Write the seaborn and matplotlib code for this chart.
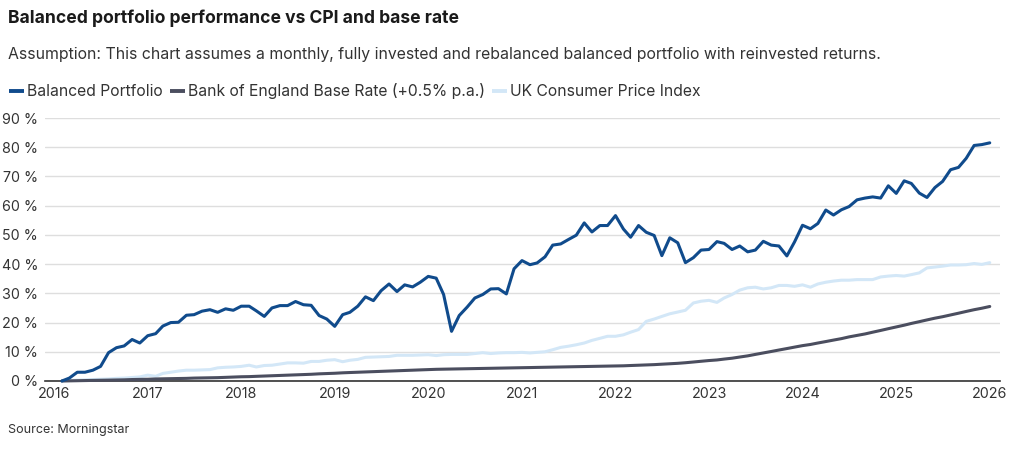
import numpy as np
import pandas as pd
import seaborn as sns
import matplotlib.pyplot as plt
import matplotlib.dates as mdates
from matplotlib.ticker import FuncFormatter

# monthly values (cumulative %), Jan 2016 - Dec 2025
balanced = [
    0, 1.0, 3.0, 3.0, 3.7, 5.0, 9.7, 11.4, 12.0, 14.2, 13.0, 15.5,
    16.2, 18.8, 20.0, 20.1, 22.5, 22.7, 23.9, 24.4, 23.5, 24.7, 24.2, 25.6,
    25.6, 24.0, 22.1, 25.0, 25.8, 25.8, 27.2, 26.1, 25.9, 22.4, 21.2, 18.7,
    22.7, 23.5, 25.6, 28.8, 27.5, 30.9, 33.2, 30.6, 32.9, 32.2, 33.8, 35.8,
    35.2, 29.6, 17.0, 22.4, 25.3, 28.4, 29.6, 31.5, 31.6, 29.8, 38.4, 41.2,
    39.8, 40.4, 42.5, 46.5, 46.9, 48.4, 49.9, 54.1, 51.0, 53.2, 53.2, 56.6,
    52.0, 49.2, 53.2, 50.9, 49.8, 42.9, 49.0, 47.3, 40.5, 42.2, 44.8, 45.0,
    47.7, 47.1, 45.0, 46.2, 44.2, 44.8, 47.8, 46.5, 46.2, 42.8, 47.6, 53.3,
    52.1, 53.9, 58.5, 56.8, 58.6, 59.7, 62.0, 62.6, 63.0, 62.6, 66.8, 64.2,
    68.5, 67.6, 64.3, 62.8, 66.2, 68.3, 72.3, 73.1, 76.2, 80.6, 80.9, 81.5,
]
base_rate = [
    0.0, 0.05, 0.1, 0.15, 0.2, 0.25, 0.3, 0.35, 0.4, 0.5, 0.55, 0.6,
    0.7, 0.75, 0.8, 0.85, 0.9, 1.0, 1.05, 1.1, 1.15, 1.25, 1.35, 1.45,
    1.5, 1.6, 1.7, 1.8, 1.9, 2.0, 2.1, 2.2, 2.3, 2.45, 2.55, 2.65,
    2.8, 2.9, 3.0, 3.1, 3.2, 3.3, 3.4, 3.5, 3.6, 3.7, 3.8, 3.9,
    4.0, 4.05, 4.1, 4.15, 4.2, 4.25, 4.3, 4.35, 4.4, 4.45, 4.5, 4.55,
    4.6, 4.65, 4.7, 4.75, 4.8, 4.85, 4.9, 4.95, 5.0, 5.05, 5.1, 5.15,
    5.2, 5.3, 5.4, 5.5, 5.6, 5.75, 5.9, 6.05, 6.25, 6.5, 6.75, 7.0,
    7.2, 7.5, 7.8, 8.2, 8.6, 9.1, 9.6, 10.1, 10.6, 11.1, 11.6, 12.1,
    12.5, 13.0, 13.5, 14.0, 14.5, 15.1, 15.6, 16.1, 16.7, 17.3, 17.9, 18.5,
    19.1, 19.7, 20.3, 20.9, 21.5, 22.0, 22.6, 23.2, 23.8, 24.4, 24.9, 25.5,
]
cpi = [
    0, 0.2, 0.3, 0.4, 0.5, 0.6, 0.7, 0.9, 1.0, 1.2, 1.4, 2.0,
    1.6, 2.6, 3.0, 3.4, 3.7, 3.7, 3.8, 3.9, 4.5, 4.7, 4.8, 5.0,
    5.4, 4.8, 5.3, 5.4, 5.8, 6.2, 6.2, 6.1, 6.7, 6.7, 7.1, 7.3,
    6.6, 7.1, 7.4, 8.1, 8.2, 8.3, 8.4, 8.8, 8.8, 8.8, 8.9, 9.0,
    8.7, 9.0, 9.1, 9.1, 9.1, 9.4, 9.7, 9.4, 9.6, 9.7, 9.7, 9.8,
    9.6, 9.8, 10.0, 10.7, 11.5, 11.9, 12.4, 13.0, 13.9, 14.6, 15.3, 15.3,
    15.8, 16.7, 17.6, 20.4, 21.2, 22.1, 23.0, 23.6, 24.2, 26.7, 27.3, 27.6,
    26.9, 28.4, 29.6, 31.1, 31.9, 32.1, 31.5, 31.9, 32.7, 32.7, 32.4, 32.9,
    32.1, 33.2, 33.8, 34.2, 34.5, 34.5, 34.7, 34.7, 34.7, 35.6, 35.9, 36.1,
    35.9, 36.4, 37.0, 38.7, 39.0, 39.3, 39.7, 39.7, 39.8, 40.2, 39.9, 40.5,
]
series_names = [
    "Balanced Portfolio",
    "Bank of England Base Rate (+0.5% p.a.)",
    "UK Consumer Price Index",
]
colors = ["#104b8c", "#4b4e5f", "#d3e7f7"]
years = list(range(2016, 2027))

dates = pd.date_range("2016-01-31", periods=len(balanced), freq="ME")
df = pd.DataFrame({
    "date": np.tile(dates, 3),
    "value": balanced + base_rate + cpi,
    "series": np.repeat(series_names, len(dates)),
})

sns.set_style("white")
plt.rcParams["font.family"] = ["Inter", "DejaVu Sans"]

fig = plt.figure(figsize=(10.24, 4.5), dpi=100)
ax = fig.add_axes([45 / 1024, 1 - 381 / 450, 955 / 1024, 263 / 450])

sns.lineplot(data=df, x="date", y="value", hue="series", hue_order=series_names,
             palette=colors, linewidth=2.2, ax=ax, legend=False)
# draw order: CPI under, portfolio on top
for line, z in zip(ax.get_lines(), [4, 3, 2]):
    line.set_zorder(z)
    line.set_clip_on(False)

ax.set_xlim(pd.Timestamp("2015-11-26"), pd.Timestamp("2026-02-09"))
ax.set_ylim(0, 90)
ax.set_yticks(range(0, 91, 10))
ax.yaxis.set_major_formatter(FuncFormatter(lambda v, p: f"{v:.0f} %"))
ax.set_xticks([pd.Timestamp(f"{y}-01-01") for y in years])
ax.xaxis.set_major_formatter(mdates.DateFormatter("%Y"))
ax.set_xlabel("")
ax.set_ylabel("")
ax.grid(axis="y", color="#dedede", linewidth=1)
ax.set_axisbelow(True)
for s in ["top", "right", "left"]:
    ax.spines[s].set_visible(False)
ax.spines["bottom"].set_color("#333333")
ax.spines["bottom"].set_linewidth(1.2)
ax.tick_params(axis="both", length=0, labelsize=10.3, colors="#333333", pad=4)
ax.tick_params(axis="y", pad=5)

fig.text(8 / 1024, 1 - 18 / 450, "Balanced portfolio performance vs CPI and base rate",
         fontsize=12.6, fontweight="bold", color="#1a1a1a", va="center")
fig.text(8 / 1024, 1 - 54 / 450,
         "Assumption: This chart assumes a monthly, fully invested and rebalanced balanced "
         "portfolio with reinvested returns.",
         fontsize=11.4, color="#333333", va="center")
fig.text(8 / 1024, 1 - 430 / 450, "Source: Morningstar", fontsize=9, color="#333333",
         va="center")

handles = [plt.Line2D([], [], color=c, linewidth=2.8, solid_capstyle="butt") for c in colors]
fig.legend(handles, series_names, loc="center left", bbox_to_anchor=(-5 / 1024, 1 - 91 / 450),
           ncol=3, frameon=False, fontsize=11.3, handlelength=0.95, handletextpad=0.2,
           columnspacing=0.45, labelcolor="#333333")

fig.savefig("out.png", dpi=100)
